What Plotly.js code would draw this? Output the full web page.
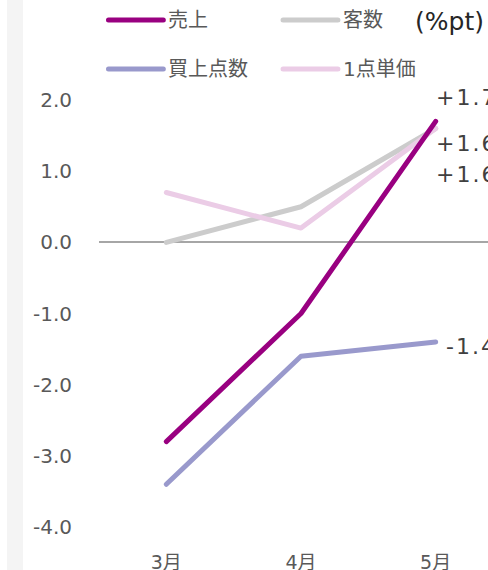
<!DOCTYPE html>
<html>
<head>
<meta charset="utf-8">
<script src="https://cdn.plot.ly/plotly-3.0.1.min.js"></script>
<style>
  html, body { margin: 0; padding: 0; width: 488px; height: 570px; overflow: hidden; background: #fff; }
  #strip { position: absolute; left: 7px; top: 0; width: 16px; height: 570px; background: #f4f4f4; z-index: 0; }
  #chart { position: absolute; left: 0; top: 0; z-index: 1; }
  #chart .main-svg { background: transparent !important; }
  #chart .scatterlayer path.js-line,
  #chart .shapelayer path { stroke-linecap: round !important; stroke-linejoin: round !important; }
</style>
</head>
<body>
<div id="strip"></div>
<div id="chart"></div>
<script>
// Months on the x axis
const months = ['3月', '4月', '5月'];

// Year-on-year change of each series (%pt)
const sales = [-2.8, -1.0, 1.7];
const customers = [0.0, 0.5, 1.6];
const itemsPerCustomer = [-3.4, -1.6, -1.4];
const unitPrice = [0.7, 0.2, 1.6];

const seriesNames = ['売上', '客数', '買上点数', '1点単価'];
const yTickValues = [-4, -3, -2, -1, 0, 1, 2];
const unitLabel = '(%pt)';

// Drawing styles
const colors = ['#990080', '#cccccc', '#9999cc', '#ebcce6'];
const allSeries = [sales, customers, itemsPerCustomer, unitPrice];
// end-label nudges so the labels of close values do not overlap
const endLabelShift = [
  { x: -2, y: 24 },
  { x: -2, y: -15 },
  { x: 8, y: -5 },
  { x: -2, y: -46 }
];

const W = 520, H = 570;
const M = { l: 98.5, r: 16.5, t: 100, b: 43 };
const plotW = W - M.l - M.r, plotH = H - M.t - M.b;
const px2x = px => (px - M.l) / plotW;
const py2y = py => (H - M.b - py) / plotH;

const font = 'DejaVu Sans, Verdana, Noto Sans CJK JP, sans-serif';

// Draw order: back to front
const drawOrder = [1, 3, 2, 0];
const traces = drawOrder.map(i => ({
  type: 'scatter',
  mode: 'lines',
  x: months,
  y: allSeries[i],
  name: seriesNames[i],
  line: { color: colors[i], width: 5 },
  cliponaxis: false,
  hoverinfo: 'skip'
}));

const fmt = v => (v > 0 ? '+' : '') + v.toFixed(1);

const annotations = allSeries.map((s, i) => ({
  x: months[months.length - 1],
  y: s[s.length - 1],
  xref: 'x', yref: 'y',
  text: '<span style="letter-spacing:2px">' + fmt(s[s.length - 1]) + '</span>',
  showarrow: false,
  xanchor: 'left', yanchor: 'middle',
  xshift: endLabelShift[i].x, yshift: endLabelShift[i].y,
  font: { family: font, size: 22, color: '#404040' }
}));

// Hand-built legend: two columns, two rows
const legendCols = [108, 283];
const legendRows = [20, 69];
const shapes = [];
seriesNames.forEach((name, i) => {
  const cx = legendCols[i % 2], cy = legendRows[Math.floor(i / 2)];
  shapes.push({
    type: 'line', xref: 'paper', yref: 'paper',
    x0: px2x(cx), x1: px2x(cx + 55), y0: py2y(cy), y1: py2y(cy),
    line: { color: colors[i], width: 5 }
  });
  annotations.push({
    xref: 'paper', yref: 'paper',
    x: px2x(cx + 58), y: py2y(cy),
    text: name, showarrow: false,
    xanchor: 'left', yanchor: 'middle',
    font: { family: font, size: 20, color: '#595959' }
  });
});
annotations.push({
  xref: 'paper', yref: 'paper',
  x: px2x(413), y: py2y(21),
  text: unitLabel, showarrow: false,
  xanchor: 'left', yanchor: 'middle',
  font: { family: font, size: 25, color: '#262626' }
});

const layout = {
  width: W, height: H,
  margin: M,
  paper_bgcolor: 'rgba(0,0,0,0)',
  plot_bgcolor: 'rgba(0,0,0,0)',
  showlegend: false,
  font: { family: font, size: 20, color: '#595959' },
  xaxis: {
    type: 'category',
    range: [-0.5, 2.5],
    showgrid: false, zeroline: false, showline: false,
    ticks: '', ticklabelstandoff: 22,
    tickfont: { family: font, size: 19, color: '#595959' },
    fixedrange: true
  },
  yaxis: {
    range: [-4, 2],
    tickvals: yTickValues,
    ticktext: yTickValues.map(v => v.toFixed(1)),
    showgrid: false, showline: false,
    zeroline: true, zerolinecolor: '#a6a6a6', zerolinewidth: 2,
    ticks: '', ticklabelstandoff: 26,
    tickfont: { family: font, size: 20, color: '#595959' },
    fixedrange: true
  },
  shapes: shapes,
  annotations: annotations
};

Plotly.newPlot('chart', traces, layout, { staticPlot: true, displayModeBar: false });
</script>
</body>
</html>
